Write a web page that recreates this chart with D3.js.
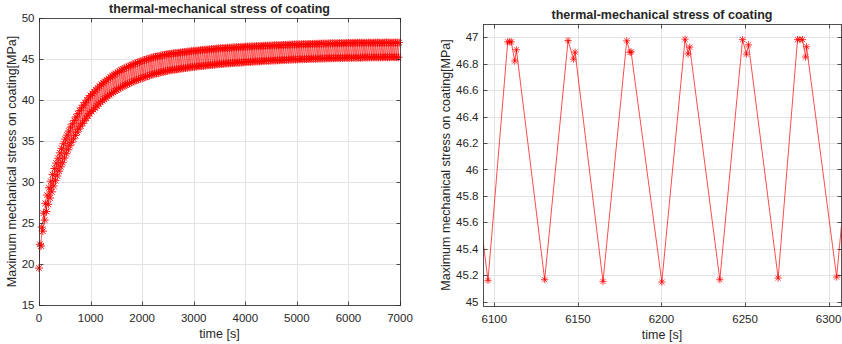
<!DOCTYPE html>
<html><head><meta charset="utf-8">
<script src="https://cdn.jsdelivr.net/npm/d3@7"></script>
<style>
body{margin:0;background:#fff}
svg{display:block}
text{font-family:"Liberation Sans",Arial,Helvetica,sans-serif;fill:#262626}
</style>
</head><body>
<svg id="c" width="842" height="344"></svg>
<script>
// ---------------- DATA ----------------
const titleText = "thermal-mechanical stress of coating";
const xLabelText = "time [s]";
const yLabelText = "Maximum mechanical stress on coating[MPa]";

// Left panel: full history. One start point, then per thermal cycle (35 s) a peak and a trough.
const leftStartTime = [0];
const leftStartValue = [19.5];
const cyclePeriod = 35, peakOffset = 18, troughOffset = 40;
const leftPeaks = [
22.4,24.5,26.2,27.4,28.4,29.3,30.1,30.9,31.65,32.3,
32.9,33.55,34.1,34.67,35.23,35.72,36.21,36.7,37.1,37.52,
37.93,38.32,38.7,39.05,39.37,39.68,39.98,40.26,40.54,40.78,
41.0,41.23,41.46,41.69,41.91,42.09,42.26,42.44,42.61,42.79,
42.96,43.09,43.23,43.37,43.51,43.65,43.77,43.87,43.98,44.08,
44.19,44.29,44.38,44.47,44.56,44.64,44.73,44.81,44.88,44.95,
45.02,45.09,45.16,45.22,45.27,45.32,45.36,45.41,45.46,45.5,
45.55,45.6,45.63,45.65,45.68,45.71,45.74,45.77,45.79,45.82,
45.85,45.88,45.91,45.93,45.96,45.99,46.01,46.03,46.06,46.08,
46.1,46.12,46.14,46.16,46.18,46.2,46.22,46.24,46.27,46.29,
46.3,46.32,46.33,46.35,46.36,46.37,46.39,46.4,46.42,46.43,
46.44,46.46,46.47,46.49,46.5,46.51,46.52,46.53,46.54,46.55,
46.56,46.57,46.58,46.6,46.61,46.62,46.63,46.64,46.65,46.65,
46.67,46.68,46.68,46.69,46.7,46.71,46.72,46.73,46.74,46.75,
46.76,46.77,46.78,46.78,46.79,46.79,46.8,46.81,46.82,46.82,
46.83,46.84,46.85,46.85,46.86,46.87,46.87,46.88,46.89,46.89,
46.9,46.9,46.91,46.91,46.92,46.92,46.93,46.93,46.94,46.94,
46.95,46.95,46.96,46.96,46.965,46.975,46.975,46.985,46.982,46.982,
46.98,46.98,46.98,46.99,46.99,46.99,46.99,46.99,46.99,46.99,
46.99,47.0,47.0,47.0,47.0,47.0,47.0,47.0,47.0,47.0
];
const leftTroughs = [
22.2,24.0,25.35,26.4,27.27,28.05,28.8,29.52,30.16,30.73,
31.31,31.85,32.36,32.92,33.44,33.93,34.42,34.85,35.26,35.68,
36.08,36.46,36.82,37.15,37.47,37.77,38.06,38.34,38.59,38.82,
39.04,39.27,39.5,39.73,39.92,40.1,40.27,40.45,40.62,40.8,
40.94,41.08,41.22,41.36,41.5,41.63,41.73,41.84,41.94,42.05,
42.15,42.25,42.34,42.43,42.51,42.6,42.68,42.75,42.83,42.91,
42.99,43.07,43.14,43.2,43.25,43.31,43.35,43.41,43.46,43.51,
43.56,43.61,43.63,43.67,43.7,43.74,43.77,43.8,43.83,43.87,
43.9,43.94,43.96,43.99,44.03,44.05,44.07,44.11,44.13,44.15,
44.17,44.2,44.22,44.24,44.26,44.29,44.31,44.34,44.36,44.39,
44.4,44.42,44.43,44.46,44.47,44.48,44.5,44.51,44.54,44.55,
44.56,44.58,44.59,44.62,44.63,44.64,44.65,44.67,44.68,44.69,
44.7,44.72,44.73,44.75,44.76,44.78,44.79,44.8,44.8,44.81,
44.83,44.84,44.85,44.86,44.87,44.88,44.9,44.91,44.92,44.93,
44.94,44.95,44.95,44.96,44.97,44.98,44.99,45.0,45.0,45.01,
45.02,45.03,45.03,45.04,45.05,45.05,45.06,45.07,45.08,45.09,
45.09,45.1,45.1,45.11,45.11,45.12,45.12,45.13,45.13,45.14,
45.14,45.15,45.15,45.161,45.166,45.153,45.148,45.166,45.178,45.186,
45.19,45.19,45.19,45.2,45.2,45.2,45.2,45.2,45.21,45.21,
45.21,45.21,45.21,45.22,45.22,45.22,45.22,45.22,45.22
];
const leftXTicks = [0,1000,2000,3000,4000,5000,6000,7000];
const leftYTicks = [15,20,25,30,35,40,45,50];
const leftXDomain = [0,7000];
const leftYDomain = [15,50];

// Right panel: zoom on 6093-6307 s (every sample shown)
const rightTime = [6074,6079,6096.2,6108.0,6109.2,6110.1,6112.2,6113.2,6130.1,6144.1,6147.3,6148.3,6165.0,6179.2,6181.2,6181.8,6200.2,6214.1,6215.9,6216.9,6234.9,6248.5,6250.8,6252.1,6269.8,6281.4,6282.8,6284.4,6286.2,6286.8,6304.8,6318];
const rightStress = [46.96,46.88,45.161,46.965,46.965,46.965,46.82,46.905,45.166,46.975,46.834,46.887,45.153,46.973,46.885,46.89,45.148,46.985,46.874,46.925,45.166,46.982,46.872,46.942,45.178,46.982,46.983,46.982,46.85,46.928,45.186,46.98];
const rightXTicks = [6100,6150,6200,6250,6300];
const rightYTicks = [45,45.2,45.4,45.6,45.8,46,46.2,46.4,46.6,46.8,47];
const rightXDomain = [6093.2,6307.4];
const rightYDomain = [44.967,47.1];

// ---------------- BUILD SERIES ----------------
const leftSeries = [];
leftStartTime.forEach((t,i)=>leftSeries.push({t, v:leftStartValue[i]}));
leftPeaks.forEach((p,k)=>{
  leftSeries.push({t:cyclePeriod*k+peakOffset, v:p});
  if(k < leftTroughs.length) leftSeries.push({t:cyclePeriod*k+troughOffset, v:leftTroughs[k]});
});
const rightSeries = rightTime.map((t,i)=>({t, v:rightStress[i]}));

// ---------------- DRAW ----------------
const svg = d3.select("#c");
const RED = "#ff0000";
const starPath = (r)=>{const d=r*0.72;return `M${-r},0H${r}M0,${-r}V${r}M${-d},${-d}L${d},${d}M${-d},${d}L${d},${-d}`;};

function panel(cfg, id){
  const x = d3.scaleLinear().domain(cfg.xDomain).range([cfg.left, cfg.right]);
  const y = d3.scaleLinear().domain(cfg.yDomain).range([cfg.bottom, cfg.top]);
  const g = svg.append("g");
  // grid
  g.append("g").selectAll("line").data(cfg.xTicks).join("line")
    .attr("x1",d=>Math.round(x(d))+0.5).attr("x2",d=>Math.round(x(d))+0.5)
    .attr("y1",cfg.top).attr("y2",cfg.bottom).attr("stroke","#e3e3e3").attr("stroke-width",1);
  g.append("g").selectAll("line").data(cfg.yTicks).join("line")
    .attr("y1",d=>Math.round(y(d))+0.5).attr("y2",d=>Math.round(y(d))+0.5)
    .attr("x1",cfg.left).attr("x2",cfg.right).attr("stroke","#e3e3e3").attr("stroke-width",1);
  // clip
  svg.append("clipPath").attr("id","clip"+id).append("rect")
    .attr("x",cfg.left).attr("y",cfg.top).attr("width",cfg.right-cfg.left).attr("height",cfg.bottom-cfg.top);
  const line = d3.line().x(d=>x(d.t)).y(d=>y(d.v));
  g.append("path").datum(cfg.series).attr("d",line).attr("fill","none")
    .attr("stroke",RED).attr("stroke-width",cfg.lw).attr("clip-path",`url(#clip${id})`);
  const inDom = cfg.series.filter(d=>d.t>=cfg.xDomain[0]&&d.t<=cfg.xDomain[1]&&d.v>=cfg.yDomain[0]&&d.v<=cfg.yDomain[1]);
  g.append("g").selectAll("path").data(inDom).join("path")
    .attr("transform",d=>`translate(${x(d.t)},${y(d.v)})`)
    .attr("d",starPath(cfg.ms)).attr("fill","none").attr("stroke",RED).attr("stroke-width",cfg.mw);
  // box
  const L=cfg.left+0.5, R=cfg.right+0.5, T=cfg.top+0.5, B=cfg.bottom+0.5;
  g.append("rect").attr("x",L).attr("y",T).attr("width",R-L).attr("height",B-T)
    .attr("fill","none").attr("stroke","#262626").attr("stroke-width",0.8);
  // ticks (inside, all sides)
  const tl = 4;
  cfg.xTicks.forEach(d=>{
    const xx=Math.round(x(d))+0.5;
    g.append("line").attr("x1",xx).attr("x2",xx).attr("y1",B).attr("y2",B-tl).attr("stroke","#262626").attr("stroke-width",0.8);
    g.append("line").attr("x1",xx).attr("x2",xx).attr("y1",T).attr("y2",T+tl).attr("stroke","#262626").attr("stroke-width",0.8);
    g.append("text").attr("x",x(d)).attr("y",cfg.bottom+16.5).attr("text-anchor","middle")
      .attr("font-size",11.5).text(d3.format("~g")(d));
  });
  cfg.yTicks.forEach(d=>{
    const yy=Math.round(y(d))+0.5;
    g.append("line").attr("y1",yy).attr("y2",yy).attr("x1",L).attr("x2",L+tl).attr("stroke","#262626").attr("stroke-width",0.8);
    g.append("line").attr("y1",yy).attr("y2",yy).attr("x1",R).attr("x2",R-tl).attr("stroke","#262626").attr("stroke-width",0.8);
    g.append("text").attr("x",cfg.left-4.5).attr("y",y(d)).attr("dy","0.36em").attr("text-anchor","end")
      .attr("font-size",11.5).text(d3.format("~g")(d));
  });
  // title and labels
  const cx=(cfg.left+cfg.right)/2, cy=(cfg.top+cfg.bottom)/2;
  g.append("text").attr("x",cx).attr("y",cfg.titleY).attr("text-anchor","middle")
    .attr("font-size",12.5).attr("font-weight","bold").attr("fill","#000").text(titleText);
  g.append("text").attr("x",cx).attr("y",cfg.bottom+32.5).attr("text-anchor","middle")
    .attr("font-size",12.5).text(xLabelText);
  g.append("text").attr("transform",`translate(${cfg.yLabelX},${cy}) rotate(-90)`).attr("text-anchor","middle")
    .attr("font-size",12.5).text(yLabelText);
}

panel({series:leftSeries,xDomain:leftXDomain,yDomain:leftYDomain,xTicks:leftXTicks,yTicks:leftYTicks,
  left:39,right:400,top:18,bottom:305,titleY:13,yLabelX:15.5,ms:4,mw:0.9,lw:0.6},"L");
panel({series:rightSeries,xDomain:rightXDomain,yDomain:rightYDomain,xTicks:rightXTicks,yTicks:rightYTicks,
  left:483,right:841,top:24,bottom:306,titleY:18.5,yLabelX:449.5,ms:3.6,mw:0.75,lw:0.7},"R");
</script>
</body></html>
